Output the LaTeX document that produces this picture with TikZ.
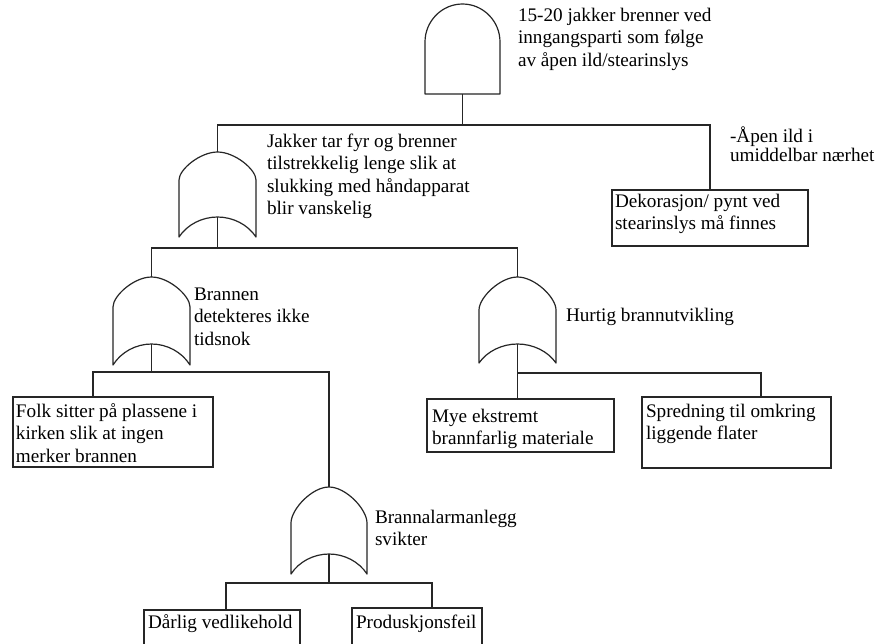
\documentclass[tikz,border=0pt]{standalone}
\usepackage{fontspec}
\setmainfont{Liberation Serif}
\usetikzlibrary{fit}

% strut that fixes the first baseline of every text block
\newcommand\topstrut{\rule{0pt}{14pt}}

% OR gate: name, left, right, apex, start of straight sides, tips, inner apex
\newcommand\drawORgate[7]{%
  \draw[gate] (#2,#6) -- (#2,#5)
    .. controls (#2,{#5-0.38*(#5-#4)}) and ({(#2+#3)/2-0.45*(#3-#2)/2},#4) .. ({(#2+#3)/2},#4)
    .. controls ({(#2+#3)/2+0.45*(#3-#2)/2},#4) and (#3,{#5-0.38*(#5-#4)}) .. (#3,#5)
    -- (#3,#6)
    .. controls ({#3-0.21*(#3-#2)/2},{#6-0.62*(#6-#7)}) and ({(#2+#3)/2+0.4*(#3-#2)/2},#7) .. ({(#2+#3)/2},#7)
    .. controls ({(#2+#3)/2-0.4*(#3-#2)/2},#7) and ({#2+0.21*(#3-#2)/2},{#6-0.62*(#6-#7)}) .. cycle;
  \coordinate (#1-top) at ({(#2+#3)/2},#4);
  \coordinate (#1-bot) at ({(#2+#3)/2},#7);
}

% AND gate: name, left, right, apex, start of straight sides, bottom
\newcommand\drawANDgate[6]{%
  \draw[gate] (#2,#6) -- (#2,#5)
    .. controls (#2,{#5-0.55*(#5-#4)}) and ({(#2+#3)/2-0.55*(#3-#2)/2},#4) .. ({(#2+#3)/2},#4)
    .. controls ({(#2+#3)/2+0.55*(#3-#2)/2},#4) and (#3,{#5-0.55*(#5-#4)}) .. (#3,#5)
    -- (#3,#6) -- cycle;
  \coordinate (#1-top) at ({(#2+#3)/2},#4);
  \coordinate (#1-bot) at ({(#2+#3)/2},#6);
}

\begin{document}
\begin{tikzpicture}[x=0.75pt,y=-0.75pt,
  line width=0.9pt,
  wire/.style={draw=black!85},
  gate/.style={draw=black!85, line join=round},
  event/.style={draw=black!85, inner sep=0pt, outer sep=0pt},
  txt/.style={anchor=north west, inner sep=0pt, outer sep=0pt, align=left,
    yshift=14pt, font=\fontsize{14.4pt}{16.9pt}\selectfont},
  tighttxt/.style={txt, font=\fontsize{14.4pt}{14.3pt}\selectfont},
]
\fill[white] (0,0) rectangle (877,643);
\useasboundingbox (0,0) rectangle (877,643);

% gates
\drawANDgate{top}{425}{500}{4}{42}{94}
\drawORgate{fire}{179}{256}{152}{180}{237}{217}
\drawORgate{detect}{113}{190}{277}{307}{365}{344}
\drawORgate{spread}{479}{556}{277}{310}{363}{344}
\drawORgate{alarm}{291}{367}{487}{523}{574}{554}

% basic events
\node[event, fit={(612,190) (808,246)}] (deco) {};
\node[event, fit={(13,397) (213,467)}] (folk) {};
\node[event, fit={(427,399) (614,452)}] (mye) {};
\node[event, fit={(642,397) (831,468)}] (spred) {};
\node[event, fit={(144,610) (300,660)}] (darlig) {};
\node[event, fit={(352,608) (482,660)}] (prod) {};

% junction points and inputs of the event boxes
\coordinate (j0) at (462.5,125);
\coordinate (j1) at (217.5,248);
\coordinate (j2) at (151.5,372);
\coordinate (j3) at (329,583);
\coordinate (j4) at (517.5,373);
\coordinate (folk-in) at (93,397);
\coordinate (mye-in) at (517.5,399);
\coordinate (spred-in) at (761,397);
\coordinate (darlig-in) at (226,610);
\coordinate (prod-in) at (432,608);

% connectors
\draw[wire] (top-bot) -- (j0);
\draw[wire] (fire-top) |- (j0) -| (deco.north);
\draw[wire] (fire-bot) -- (j1);
\draw[wire] (detect-top) |- (j1) -| (spread-top);
\draw[wire] (detect-bot) -- (j2);
\draw[wire] (folk-in) |- (j2) -| (alarm-top);
\draw[wire] (alarm-bot) -- (j3);
\draw[wire] (darlig-in) |- (j3) -| (prod-in);
\draw[wire] (spread-bot) -- (j4) -- (mye-in);
\draw[wire] (j4) -| (spred-in);

% texts
\node[txt] (t-top) at (518,21) {\topstrut 15-20 jakker brenner ved\\inngangsparti som følge\\av åpen ild/stearinslys};
\node[txt] (t-fire) at (267,147) {\topstrut Jakker tar fyr og brenner\\tilstrekkelig lenge slik at\\slukking med håndapparat\\blir vanskelig};
\node[tighttxt] (t-open) at (730,142) {\topstrut -Åpen ild i\\umiddelbar nærhet};
\node[txt] (t-deco) at (615,207) {\topstrut Dekorasjon/ pynt ved\\stearinslys må finnes};
\node[txt] (t-detect) at (194,300) {\topstrut Brannen\\detekteres ikke\\tidsnok};
\node[txt] (t-spread) at (566,321) {\topstrut Hurtig brannutvikling};
\node[txt] (t-folk) at (16,417) {\topstrut Folk sitter på plassene i\\kirken slik at ingen\\merker brannen};
\node[txt] (t-mye) at (432,422) {\topstrut Mye ekstremt\\brannfarlig materiale};
\node[txt] (t-spred) at (646,417) {\topstrut Spredning til omkring\\liggende flater};
\node[txt] (t-alarm) at (375,523) {\topstrut Brannalarmanlegg\\svikter};
\node[txt] (t-darlig) at (148,628) {\topstrut Dårlig vedlikehold};
\node[txt] (t-prod) at (356,628) {\topstrut Produskjonsfeil};
\end{tikzpicture}
\end{document}
